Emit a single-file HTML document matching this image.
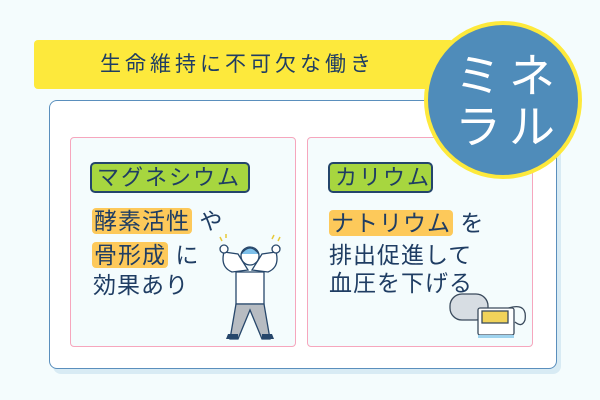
<!DOCTYPE html>
<html><head><meta charset="utf-8"><style>
*{margin:0;padding:0;box-sizing:border-box}
body{width:600px;height:400px;background:#f4fcfd;position:relative;overflow:hidden;font-family:"Liberation Sans","Noto Sans CJK JP",sans-serif;color:#1f3d63}
.abs{position:absolute}
.bar{left:34px;top:40px;width:420px;height:49px;background:#fde93c;border-radius:4px}
.bartxt{left:100px;top:51px;font-size:21px;letter-spacing:4px;line-height:28px}
.outer{left:49px;top:100px;width:508px;height:269px;background:#fff;border:1.5px solid #5a8fbd;border-radius:8px;box-shadow:4px 5px 0 #d8ebf4}
.pink{top:137px;height:210px;border:1.5px solid #f6a6bd;border-radius:4px;background:#f4fcfd}
.lab{top:162px;height:31px;background:#a7d63f;border:2px solid #24456b;border-radius:5px;font-size:22px;line-height:27px;padding-left:5px;letter-spacing:2px}
.t{font-size:23px;line-height:26px;letter-spacing:1px}
.hl{background:#fdc95a;border-radius:4px;padding:0 2px}
.circ{left:424px;top:21px;width:158px;height:158px;border-radius:50%;background:#4f8cba;border:4px solid #fde93c}
.ct{color:#fff;font-size:46px;line-height:46px;letter-spacing:8px}
</style></head><body>
<div class="abs outer"></div>
<div class="abs bar"></div>
<div class="abs bartxt">生命維持に不可欠な働き</div>
<div class="abs pink" style="left:70px;width:226px"></div>
<div class="abs pink" style="left:307px;width:226px"></div>
<div class="abs lab" style="left:90px;width:160px">マグネシウム</div>
<div class="abs lab" style="left:328px;width:105px">カリウム</div>
<div class="abs t" style="left:92px;top:208px"><span class="hl">酵素活性</span> や</div>
<div class="abs t" style="left:92px;top:242px"><span class="hl">骨形成</span> に</div>
<div class="abs t" style="left:93px;top:272px">効果あり</div>
<div class="abs t" style="left:329px;top:210px"><span class="hl">ナトリウム</span> を</div>
<div class="abs t" style="left:329px;top:242px">排出促進して</div>
<div class="abs t" style="left:329px;top:270px">血圧を下げる</div>
<svg class="abs" style="left:210px;top:222px" width="80" height="120">
<g stroke="#27476b" stroke-width="1.3" fill="#fff">
<path d="M14 30 Q10 45 22 50 L38 48 L28 32 Z"/>
<path d="M66 30 Q70 45 58 50 L42 48 L52 32 Z"/>
<path d="M26 50 L54 50 L54 82 L26 82 Z"/>
<path d="M26 82 L20 117 L28 117 L40 88 L52 117 L60 117 L54 82 Z" fill="#b7bcc2"/>
<circle cx="40" cy="34" r="9" fill="#fff"/>
<path d="M31 32 Q40 20 49 32" fill="#7ec0ea"/>
<circle cx="14" cy="27" r="4"/><circle cx="66" cy="27" r="4"/>
</g>
<path d="M18 112 h10 v5 h-12z M52 112 h10 l2 5 h-12z" fill="#27476b"/>
<path d="M10 15 l2 4 M16 12 v4 M64 13 l-2 4 M70 15 l-2 4" stroke="#e7c93a" stroke-width="1.5"/>
</svg>
<svg class="abs" style="left:448px;top:290px" width="85" height="52">
<g stroke="#3a4a5c" stroke-width="1.3">
<rect x="2" y="4" width="38" height="26" rx="12" fill="#d7dde3"/>
<path d="M55 20 q25 -10 22 10 q-3 8 -10 2" fill="none"/>
<rect x="30" y="18" width="36" height="27" rx="2" fill="#fff"/>
<rect x="34" y="21" width="26" height="12" fill="#f1d35a"/>
</g>
<rect x="30" y="45" width="36" height="3" fill="#9fd3ee"/>
</svg>
<div class="abs circ"></div>
<div class="abs ct" style="left:455px;top:53px">ミネ</div>
<div class="abs ct" style="left:455px;top:104px">ラル</div>
</body></html>
